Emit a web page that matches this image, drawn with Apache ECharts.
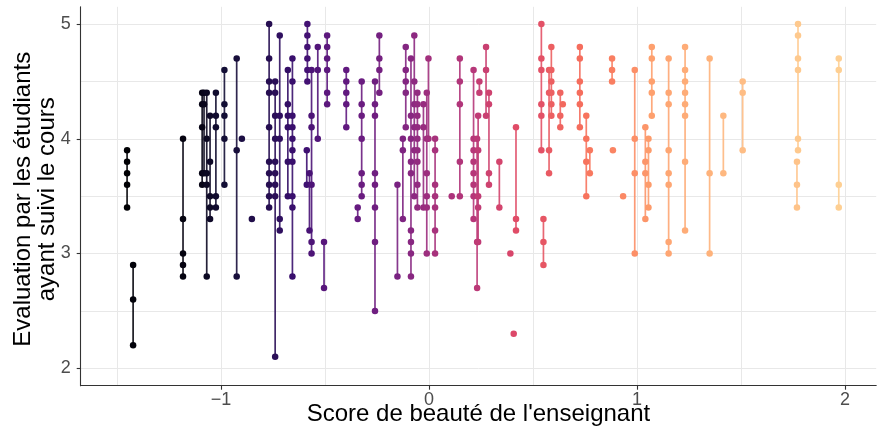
<!DOCTYPE html>
<html>
<head>
<meta charset="utf-8">
<script src="https://cdn.jsdelivr.net/npm/echarts@6/dist/echarts.min.js"></script>
<style>
  html, body { margin: 0; padding: 0; background: #ffffff; }
  #chart { width: 878px; height: 438px; }
</style>
</head>
<body>
<div id="chart"></div>
<script>
// Beauty score of each instructor (sorted ascending)
const profBeauty = [
  -1.452, -1.423, -1.183, -1.091, -1.082, -1.069, -1.053, -1.025, -0.984, -0.925,
  -0.900, -0.852, -0.769, -0.740, -0.718, -0.679, -0.657, -0.588, -0.585, -0.575,
  -0.565, -0.535, -0.505, -0.490, -0.398, -0.343, -0.324, -0.260, -0.239, -0.152,
  -0.126, -0.112, -0.087, -0.071, -0.056, -0.027, -0.011, -0.003, 0.029, 0.109,
  0.148, 0.214, 0.231, 0.236, 0.242, 0.274, 0.288, 0.338, 0.391, 0.407,
  0.418, 0.540, 0.550, 0.577, 0.588, 0.631, 0.643, 0.725, 0.756, 0.773,
  0.880, 0.884, 0.933, 0.989, 1.040, 1.055, 1.071, 1.152, 1.231, 1.349,
  1.415, 1.508, 1.769, 1.774, 1.970
];

// Course evaluations received by each instructor
const profScores = [
  [3.9, 3.8, 3.7, 3.6, 3.4],
  [2.9, 2.6, 2.2],
  [4.0, 3.3, 3.0, 2.9, 2.8],
  [4.4, 4.3, 4.1, 3.7, 3.6],
  [4.4, 4.3, 3.7],
  [4.4, 4.0, 3.7, 3.6, 2.8],
  [4.2, 3.8, 3.5, 3.4, 3.3],
  [4.4, 4.2, 4.1, 3.5, 3.4],
  [4.6, 4.3, 4.2, 4.0, 3.6],
  [4.7, 3.9, 2.8],
  [4.0],
  [3.3],
  [5.0, 4.7, 4.5, 4.4, 4.1, 3.8, 3.7, 3.6, 3.5, 3.4],
  [4.5, 4.4, 4.2, 4.0, 3.8, 3.7, 3.6, 3.5, 2.1],
  [4.9, 4.2, 4.0, 3.3, 3.2],
  [4.6, 4.3, 4.2, 4.1, 3.8, 3.5],
  [4.7, 4.5, 4.2, 4.1, 4.0, 3.9, 3.8, 3.5, 3.4, 2.8],
  [3.9, 3.6],
  [5.0, 4.9, 4.8, 4.7, 4.6, 4.5],
  [3.7, 3.2],
  [4.6, 4.2, 4.1, 3.6, 3.1, 3.0],
  [4.8, 4.6, 4.0],
  [3.1, 2.7],
  [4.9, 4.8, 4.7, 4.6, 4.4, 4.3],
  [4.6, 4.5, 4.4, 4.3, 4.1],
  [3.4, 3.3],
  [4.5, 4.3, 4.2, 4.0, 3.7, 3.6, 3.5],
  [4.5, 4.3, 4.2, 3.7, 3.6, 3.4, 3.1, 2.5],
  [4.9, 4.7, 4.6, 4.4],
  [3.6, 2.8],
  [4.0, 3.9, 3.3],
  [4.8, 4.6, 4.5, 4.4, 4.1],
  [4.7, 4.2, 4.0, 3.8, 3.7, 3.2, 3.1, 3.0, 2.8],
  [4.9, 4.5, 4.3, 4.1, 3.9, 3.5],
  [4.4, 4.3, 4.2, 4.1, 4.0, 3.9, 3.8, 3.6, 3.4],
  [4.3, 4.1, 3.4],
  [4.4, 4.0, 3.7, 3.5, 3.4, 3.0],
  [4.7, 4.0],
  [4.0, 3.9, 3.6, 3.5, 3.4, 3.2, 3.0],
  [3.5],
  [4.7, 4.5, 4.3, 3.8, 3.5],
  [4.6, 4.0, 3.9, 3.8, 3.7, 3.6, 3.5, 3.3],
  [4.0, 3.1, 2.7],
  [4.2, 3.9, 3.5, 3.4, 3.1],
  [4.5, 4.4],
  [4.8, 4.6, 4.2],
  [4.4, 4.3, 3.7, 3.6],
  [3.8, 3.4],
  [3.0],
  [2.3],
  [4.1, 3.3, 3.2],
  [5.0, 4.7, 4.6, 4.3, 4.2, 3.9],
  [3.3, 3.1, 2.9],
  [4.6, 4.4, 3.9, 3.7],
  [4.8, 4.6, 4.5, 4.4, 4.3, 4.2],
  [4.4, 4.2, 4.1],
  [4.3],
  [4.8, 4.7, 4.5, 4.4, 4.3, 4.1],
  [4.2, 4.0, 3.8, 3.5],
  [3.9, 3.7],
  [4.7, 4.6, 4.5],
  [3.9],
  [3.5],
  [4.6, 4.0, 3.7, 3.0],
  [4.1, 3.8, 3.7, 3.3],
  [4.0, 3.9, 3.6, 3.4],
  [4.8, 4.7, 4.5, 4.4, 4.2],
  [4.7, 4.4, 4.3, 3.9, 3.7, 3.6, 3.1, 3.0],
  [4.8, 4.6, 4.5, 4.4, 4.3, 4.2, 3.8, 3.2],
  [4.7, 3.7, 3.0],
  [4.2, 3.7],
  [4.5, 4.4, 3.9],
  [3.8, 3.6, 3.4],
  [5.0, 4.9, 4.7, 4.6, 4.0, 3.9],
  [4.7, 4.6, 3.6, 3.4]
];

// Axis ticks and grid positions
const xTicks = [-1, 0, 1, 2];
const yTicks = [2, 3, 4, 5];
const xGridLines = [-1.5, -1, -0.5, 0, 0.5, 1, 1.5, 2];
const yGridLines = [2, 2.5, 3, 3.5, 4, 4.5, 5];

// Axis titles
const xTitle = "Score de beauté de l'enseignant";
const yTitle = 'Evaluation par les étudiants\nayant suivi le cours';

// Magma palette (0 → 0.9)
const magma = ['#000004', '#140e36', '#3b0f70', '#641a80', '#8c2981',
               '#b73779', '#de4968', '#f7705c', '#fe9f6d', '#fecf92'];

// Points: [beauty, score, instructor rank]; segments: [beauty, min, rank, max]
const pointData = [];
const segmentData = [];
profBeauty.forEach((b, i) => {
  const s = profScores[i];
  s.forEach(v => pointData.push([b, v, i]));
  segmentData.push([b, Math.min(...s), i, Math.max(...s)]);
});

const font = '"Liberation Sans", Arial, Helvetica, sans-serif';
const minus = v => (v < 0 ? '\u2212' + Math.abs(v) : String(v));

const gridBox = { left: 80.7, right: 1.8, top: 6.8, bottom: 52.3 };
const W = 878, H = 438;
const plotCx = gridBox.left + (W - gridBox.left - gridBox.right) / 2;
const plotCy = gridBox.top + (H - gridBox.top - gridBox.bottom) / 2;

const chart = echarts.init(document.getElementById('chart'), null, { renderer: 'canvas' });
chart.setOption({
  animation: false,
  backgroundColor: '#ffffff',
  textStyle: { fontFamily: font },
  grid: Object.assign({ containLabel: false, outerBoundsMode: 'none' }, gridBox),
  graphic: [
    {
      type: 'text',
      x: plotCx, y: 414,
      silent: true,
      style: { text: xTitle, fill: '#000000', font: '24px ' + font, align: 'center', verticalAlign: 'middle' }
    },
    {
      type: 'text',
      x: 35, y: plotCy + 3,
      rotation: Math.PI / 2,
      silent: true,
      style: { text: yTitle, fill: '#000000', font: '24px ' + font, lineHeight: 24, align: 'center', verticalAlign: 'middle' }
    }
  ],
  xAxis: {
    type: 'value',
    min: -1.675, max: 2.15,
    axisLine: { show: true, onZero: false, lineStyle: { color: '#333333', width: 1.1 } },
    axisTick: { show: true, length: 4, customValues: xTicks, lineStyle: { color: '#333333', width: 1.1 } },
    axisLabel: { customValues: xTicks, formatter: minus, color: '#4d4d4d', fontSize: 18, margin: 5, fontFamily: font },
    splitLine: { show: false }
  },
  yAxis: {
    type: 'value',
    min: 1.848, max: 5.15,
    axisLine: { show: true, onZero: false, lineStyle: { color: '#333333', width: 1.1 } },
    axisTick: { show: true, length: 4, customValues: yTicks, lineStyle: { color: '#333333', width: 1.1 } },
    axisLabel: { customValues: yTicks, color: '#4d4d4d', fontSize: 18, margin: 10, fontFamily: font },
    splitLine: { show: false }
  },
  visualMap: {
    show: false,
    type: 'continuous',
    dimension: 2,
    min: 0,
    max: profBeauty.length - 1,
    seriesIndex: [1, 2],
    inRange: { color: magma }
  },
  series: [
    {
      type: 'line',
      data: [],
      silent: true,
      z: 0,
      markLine: {
        silent: true,
        z: 0,
        symbol: ['none', 'none'],
        label: { show: false },
        lineStyle: { color: '#e8e8e8', width: 1, type: 'solid' },
        data: yGridLines.map(v => ({ yAxis: v })).concat(xGridLines.map(v => ({ xAxis: v })))
      }
    },
    {
      type: 'custom',
      z: 2,
      data: segmentData,
      encode: { x: 0, y: [1, 3] },
      renderItem: (params, api) => {
        const x = api.value(0);
        const p1 = api.coord([x, api.value(3)]);
        const p2 = api.coord([x, api.value(1)]);
        return {
          type: 'line',
          shape: { x1: p1[0], y1: p1[1], x2: p2[0], y2: p2[1] },
          style: { stroke: api.visual('color'), lineWidth: 1.7, opacity: 0.9 }
        };
      }
    },
    {
      type: 'scatter',
      z: 3,
      data: pointData,
      symbol: 'circle',
      symbolSize: 6.5,
      itemStyle: { opacity: 1 }
    }
  ]
});
</script>
</body>
</html>
